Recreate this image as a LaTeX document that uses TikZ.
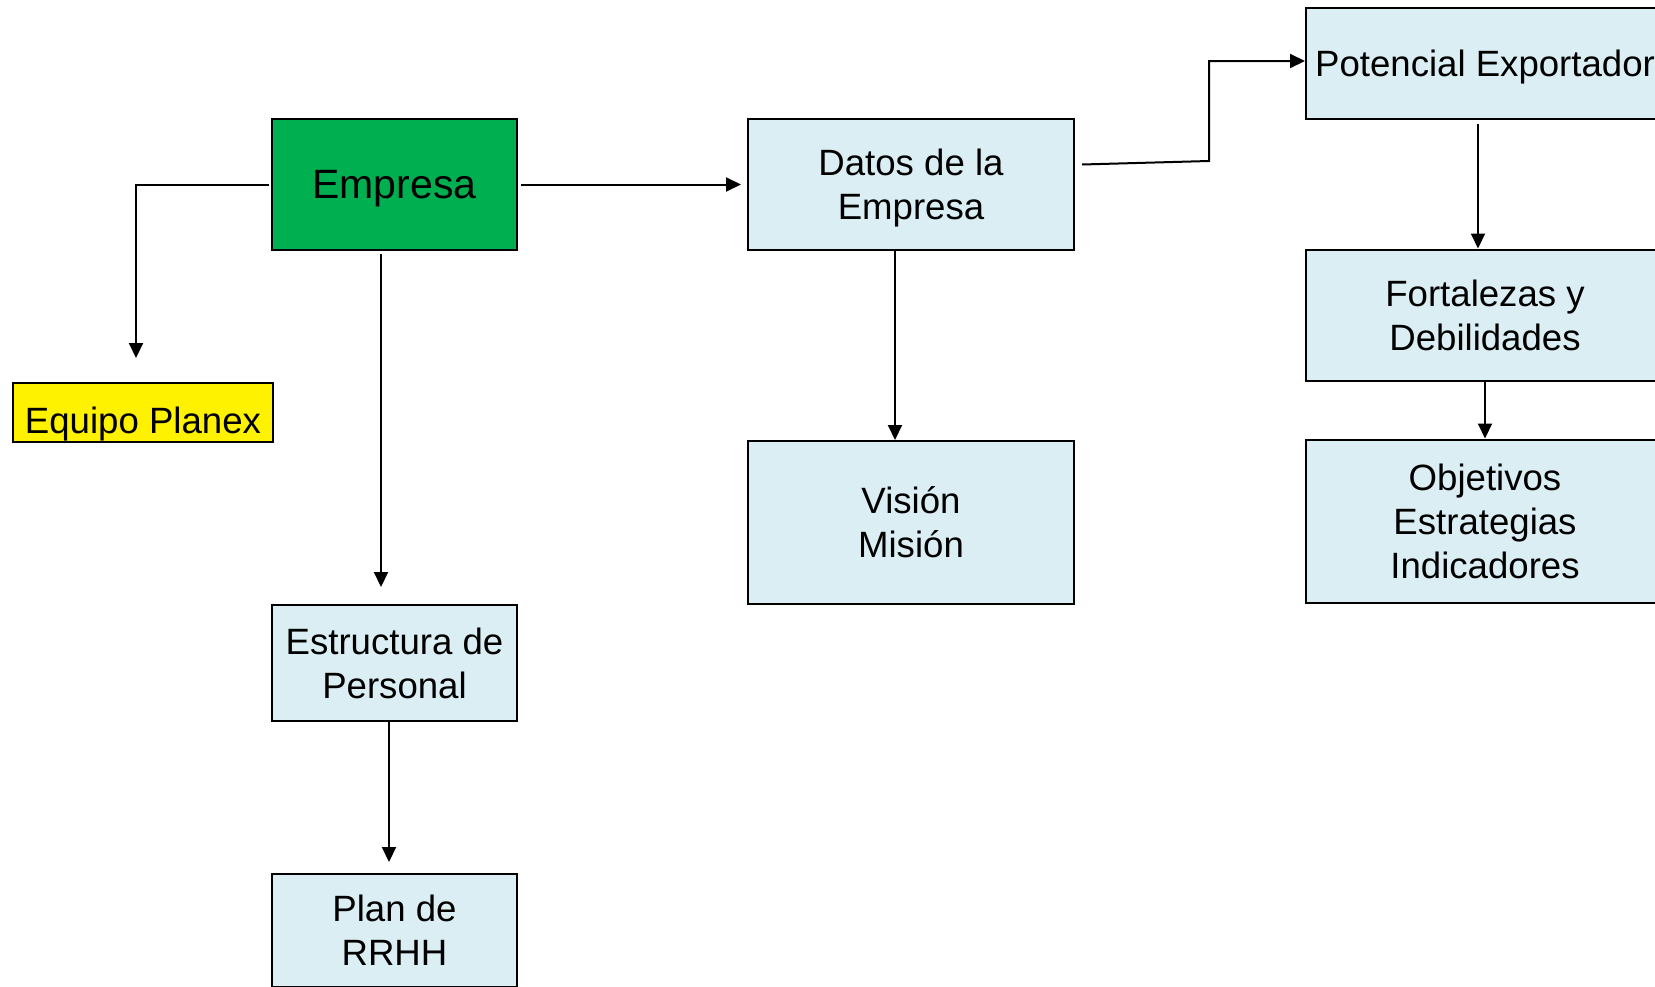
\documentclass[tikz,border=0pt]{standalone}
\usepackage{fontspec}
\setmainfont{Liberation Sans}
\usetikzlibrary{positioning, arrows.meta}
\definecolor{celeste}{RGB}{218,238,243}
\definecolor{verde}{RGB}{0,176,80}
\tikzstyle{bloque} = [rectangle, minimum width=163pt, text centered, align=center, draw=black, line width=1pt, fill=celeste, inner sep=0pt, text depth=0pt, font=\fontsize{18.3}{22}\selectfont]
\tikzstyle{empresa} = [bloque, minimum width=122.5pt, minimum height=65.5pt, fill=verde, font=\fontsize{20.5}{24}\selectfont]
\tikzstyle{equipo} = [bloque, minimum width=130pt, minimum height=29.5pt, fill=yellow, text height=21pt]
\tikzstyle{arrow} = [line width=1pt, -{Triangle[width=7pt,length=7.5pt]}]

\begin{document}
\begin{tikzpicture}[x=0.5pt, y=-0.5pt]
		\useasboundingbox (0,0) rectangle (1655,986);
		\node (emp) [empresa] at (394.5,184.5) {Empresa};
		\node (planex) [equipo] at (143,412.5) {Equipo Planex};
		\node (datos) [bloque, minimum height=65.5pt, right=114.5pt of emp] {Datos de la\\Empresa};
		\node (vision) [bloque, minimum height=81.5pt, below=94.5pt of datos] {Visión\\Misión};
		\node (estr) [bloque, minimum width=122.5pt, minimum height=58pt, below=176.5pt of emp] {Estructura de\\Personal};
		\node (plan) [bloque, minimum width=122.5pt, minimum height=56.5pt, below=75.5pt of estr] {Plan de\\RRHH};
		\node (pot) [bloque, minimum width=179pt, minimum height=55.5pt] at (1485,63) {Potencial Exportador};
		\node (fort) [bloque, minimum width=179pt, minimum height=65.5pt, below=64.5pt of pot] {Fortalezas y\\Debilidades};
		\node (obj) [bloque, minimum width=179pt, minimum height=81.5pt, below=28.5pt of fort] {Objetivos\\Estrategias\\Indicadores};
		\coordinate (codo) at (1209,161);
		\draw [arrow] ([xshift=-1pt]emp.west) -| ([xshift=-3.5pt,yshift=12pt]planex.north);
		\draw [arrow] ([xshift=-6.75pt,yshift=-1.5pt]emp.south) -- ([xshift=-6.75pt,yshift=8.5pt]estr.north);
		\draw [arrow] ([xshift=1.5pt]emp.east) -- ([xshift=-3pt]datos.west);
		\draw [arrow] ([xshift=-8pt]datos.south) -- ([xshift=-8pt]vision.north);
		\draw [arrow] ([xshift=-2.75pt]estr.south) -- ([xshift=-2.75pt,yshift=5.5pt]plan.north);
		\draw [arrow] ([xshift=3.5pt,yshift=10pt]datos.east) -- (codo) |- ([yshift=1pt]pot.west);
		\draw [arrow] ([xshift=-3.5pt,yshift=-2pt]pot.south) -- ([xshift=-3.5pt]fort.north);
		\draw [arrow] (fort) -- (obj);
	\end{tikzpicture}
\end{document}
